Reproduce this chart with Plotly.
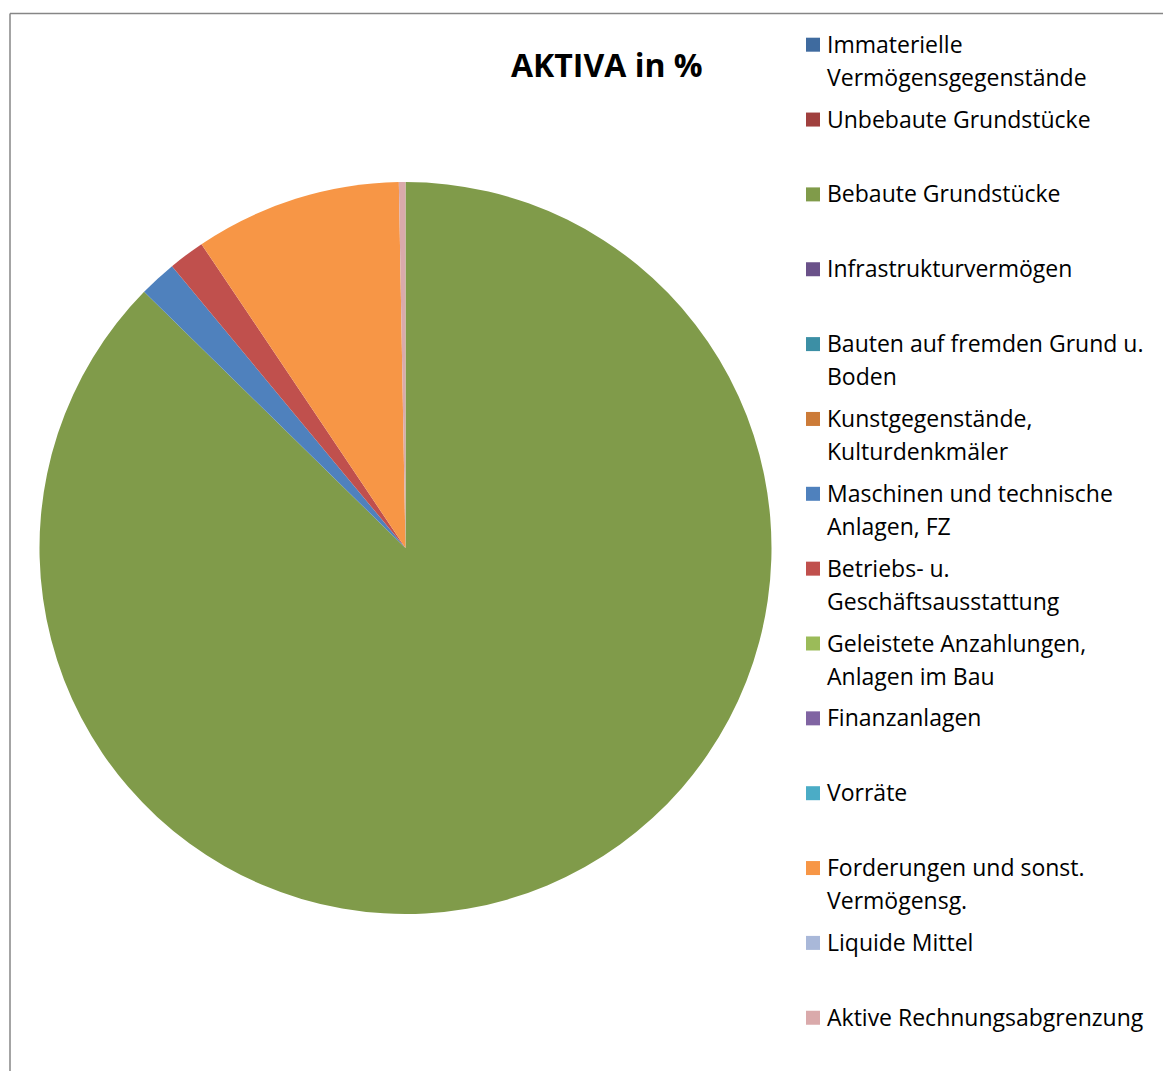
import plotly.graph_objects as go

# ---- data ----
categories = [
    "Immaterielle Vermögensgegenstände",
    "Unbebaute Grundstücke",
    "Bebaute Grundstücke",
    "Infrastrukturvermögen",
    "Bauten auf fremden Grund u. Boden",
    "Kunstgegenstände, Kulturdenkmäler",
    "Maschinen und technische Anlagen, FZ",
    "Betriebs- u. Geschäftsausstattung",
    "Geleistete Anzahlungen, Anlagen im Bau",
    "Finanzanlagen",
    "Vorräte",
    "Forderungen und sonst. Vermögensg.",
    "Liquide Mittel",
    "Aktive Rechnungsabgrenzung",
]
legend_lines = [
    ["Immaterielle", "Vermögensgegenstände"],
    ["Unbebaute Grundstücke"],
    ["Bebaute Grundstücke"],
    ["Infrastrukturvermögen"],
    ["Bauten auf fremden Grund u.", "Boden"],
    ["Kunstgegenstände,", "Kulturdenkmäler"],
    ["Maschinen und technische", "Anlagen, FZ"],
    ["Betriebs- u.", "Geschäftsausstattung"],
    ["Geleistete Anzahlungen,", "Anlagen im Bau"],
    ["Finanzanlagen"],
    ["Vorräte"],
    ["Forderungen und sonst.", "Vermögensg."],
    ["Liquide Mittel"],
    ["Aktive Rechnungsabgrenzung"],
]
values = [0, 0, 87.33, 0, 0, 0, 1.65, 1.60, 0, 0, 0, 9.12, 0, 0.29]
colors = [
    "#3F6B9F", "#A0403E", "#809B4A", "#6A5189", "#3C8FA5", "#CC7B38",
    "#4F81BD", "#C0504D", "#9BBB59", "#8064A2", "#4BACC6", "#F79646",
    "#A9B8D9", "#DAAAAB",
]
title_text = "AKTIVA in %"

# the page places the figure 8px in from the top-left corner
OFF = 8
W, H = 1171 - OFF, 1071 - OFF
FONT = "Open Sans"


def px(x):
    return (x - OFF) / W


def py(y):
    return 1 - (y - OFF) / H


fig = go.Figure()
fig.add_trace(go.Pie(
    labels=categories,
    values=values,
    marker=dict(colors=colors, line=dict(width=0)),
    sort=False,
    direction="clockwise",
    rotation=0,
    textinfo="none",
    showlegend=False,
    domain=dict(x=[px(39), px(772)], y=[py(914), py(182)]),
))

shapes = [
    dict(type="line", xref="paper", yref="paper", x0=px(10), x1=1.05, y0=py(13.5), y1=py(13.5),
         line=dict(color="#868686", width=1.5)),
    dict(type="line", xref="paper", yref="paper", x0=px(10), x1=px(10), y0=py(13.5), y1=-0.05,
         line=dict(color="#868686", width=1.5)),
]
annotations = [
    dict(text="<b>%s</b>" % title_text, x=px(607), y=py(65), xref="paper", yref="paper",
         xanchor="center", yanchor="middle", showarrow=False,
         font=dict(family=FONT, size=32, color="#000000")),
]

step = 74.85
for i, lines in enumerate(legend_lines):
    cy = 44.7 + step * i
    shapes.append(dict(type="rect", xref="paper", yref="paper",
                       x0=px(806), x1=px(820), y0=py(cy - 7), y1=py(cy + 7),
                       fillcolor=colors[i], line=dict(width=0)))
    for j, ln in enumerate(lines):
        annotations.append(dict(text=ln, x=px(825), y=py(cy - 1 + 33 * j),
                                xref="paper", yref="paper", xanchor="left", yanchor="middle",
                                showarrow=False,
                                font=dict(family=FONT, size=23, color="#000000")))

fig.update_layout(
    width=W, height=H,
    margin=dict(l=0, r=0, t=0, b=0),
    paper_bgcolor="white",
    plot_bgcolor="white",
    shapes=shapes,
    annotations=annotations,
)

fig.write_html("out.html")
